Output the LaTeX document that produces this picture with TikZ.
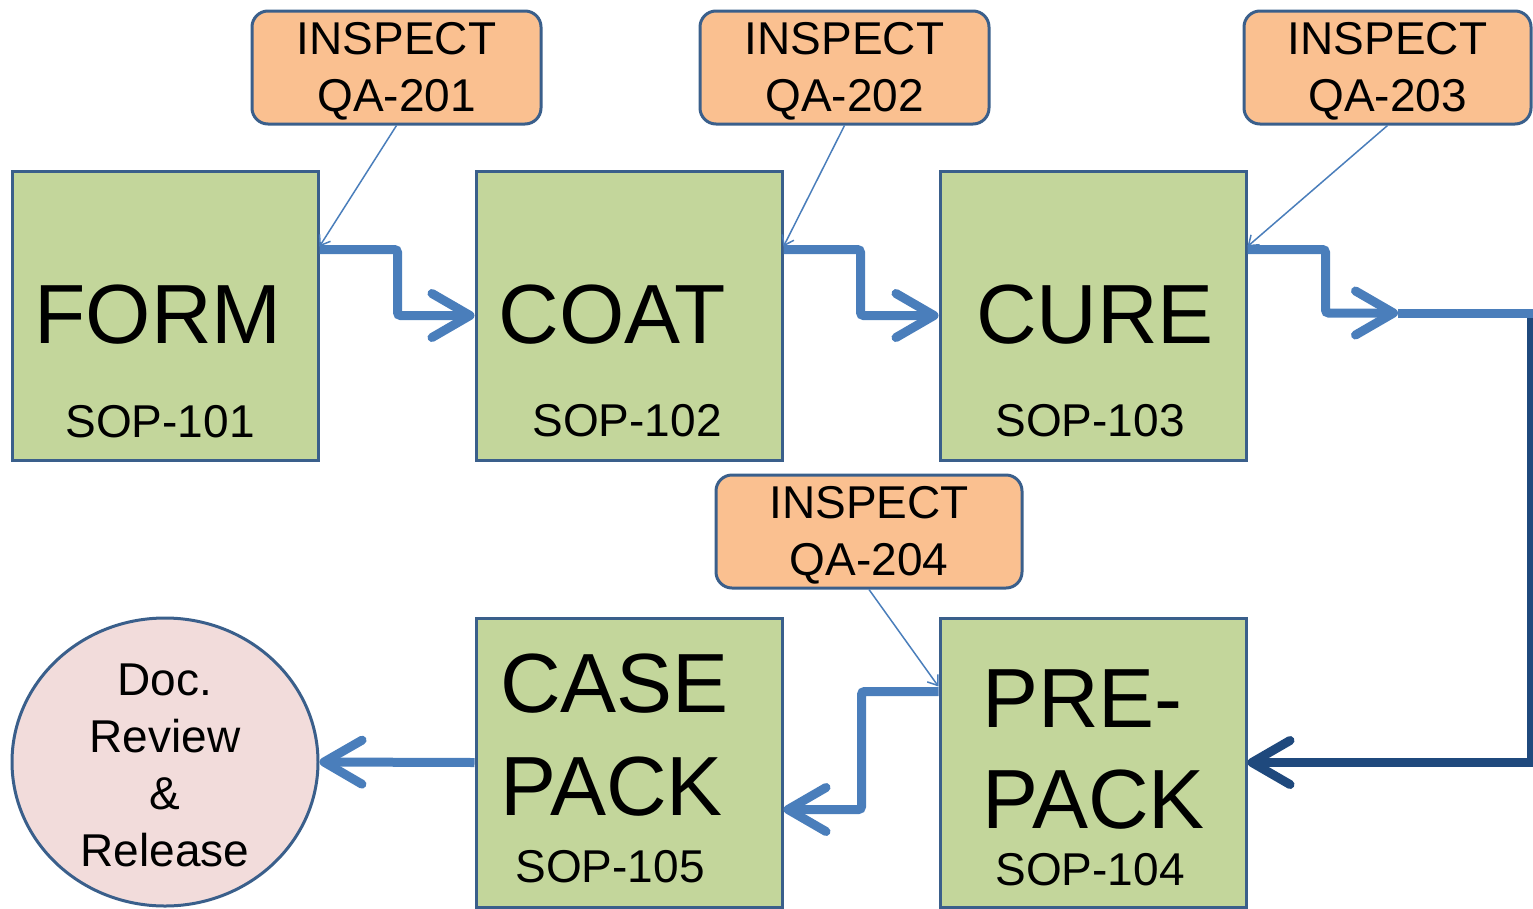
\documentclass[tikz,border=0pt]{standalone}
\usepackage{fontspec}
\setmainfont{Liberation Sans}
\usepackage{xcolor}
\usepackage{tikz}
\usetikzlibrary{
    arrows.meta,
    shapes.geometric,
    positioning,
    calc
}

\definecolor{stagefill}{HTML}{C3D69B}
\definecolor{boxline}{HTML}{3A5F8B}
\definecolor{qafill}{HTML}{FAC090}
\definecolor{relfill}{HTML}{F2DCDB}
\definecolor{flowblue}{HTML}{4A7EBB}
\definecolor{backblue}{HTML}{1F497D}

\newcommand{\bigtxt}{\fontsize{84}{103}\selectfont}
\newcommand{\smalltxt}{\fontsize{46}{57}\selectfont}
\newcommand{\topgap}{\rule{0pt}{40pt}}

\begin{document}
\begin{tikzpicture}[
  x=1pt, y=-1pt,
  stage/.style={rectangle, draw=boxline, fill=stagefill, line width=3pt,
    minimum width=306pt, minimum height=289pt, inner sep=0pt},
  inspect/.style={rectangle, rounded corners=16pt,
    draw=boxline, fill=qafill, line width=3pt,
    minimum width=289pt, minimum height=113pt, inner sep=0pt,
    font=\smalltxt, align=center},
  release/.style={ellipse, draw=boxline, fill=relfill, line width=3pt,
    minimum width=306pt, minimum height=288pt, inner sep=0pt},
  reltxt/.style={font=\smalltxt, align=center, inner sep=0pt},
  ttl/.style={font=\bigtxt, inner sep=0pt, anchor=base},
  sop/.style={font=\smalltxt, inner sep=0pt, anchor=base},
  arr/.style={-{Straight Barb[length=38pt, width=44pt, round]},
    line width=9pt, draw=flowblue, rounded corners=3pt},
  plainarr/.style={line width=9pt, draw=flowblue},
  backarr/.style={-{Straight Barb[length=38pt, width=44pt, round]},
    line width=9pt, draw=backblue, sharp corners},
  thinarr/.style={-{Straight Barb[length=9pt, width=13pt]},
    line width=1.5pt, draw=flowblue}
]
\useasboundingbox (0,0) rectangle (1533,908);

%% ── Top row: stages ──────────────────────────────────────────────────────────
\node[stage] (form) at (165,315.5) {};
\node[stage, right=155pt of form] (coat) {};
\node[stage, right=155pt of coat] (cure) {};

\node[ttl] (formt) at (158,343) {FORM};
\node[sop] (forms) at (160,437) {SOP-101};
\node[ttl] (coatt) at (612,343) {COAT};
\node[sop] (coats) at (627,436) {SOP-102};
\node[ttl] (curet) at (1095,343) {CURE};
\node[sop] (cures) at (1090,436) {SOP-103};

%% ── Bottom row: stages ───────────────────────────────────────────────────────
\node[stage, below=155pt of cure] (prepack) {};
\node[stage, below=155pt of coat] (casepack) {};
\node[release, below=155pt of form] (release) {};
\node[reltxt] (relt) at ([yshift=-3pt]release.center)
    {Doc.\\Review\\\&\\Release};

\node[ttl, anchor=base west] (preta) at (982,727) {PRE-};
\node[ttl, anchor=base west] (pretb) at (982,828) {PACK};
\node[sop] (pres) at (1090,885) {SOP-104};
\node[ttl, anchor=base west] (caseta) at (500,712) {CASE};
\node[ttl, anchor=base west] (casetb) at (500,815) {PACK};
\node[sop] (cases) at (610,882) {SOP-105};

%% ── Inspection points ────────────────────────────────────────────────────────
\node[inspect] (qa1) at (396.5,67.5) {\topgap INSPECT\\QA-201};
\node[inspect] (qa2) at (844.5,67.5) {\topgap INSPECT\\QA-202};
\node[inspect, minimum width=287pt] (qa3) at (1387.5,67.5)
    {\topgap INSPECT\\QA-203};
\node[inspect, minimum width=306pt] (qa4) at (869,531.5)
    {\topgap INSPECT\\QA-204};

%% ── Flow arrows ──────────────────────────────────────────────────────────────
\coordinate (cureout) at (1398,313);
\coordinate (rim) at (1531,313);

\draw[arr] ([yshift=-80pt]form.north east) -- ++(78,0) |- (coat.west);
\draw[arr] ([yshift=-80pt]coat.north east) -- ++(77,0) |- (cure.west);
\draw[arr] ([yshift=-80pt]cure.north east) -- ++(78,0) |- (cureout);
\draw[backarr] ([yshift=4pt]rim) |- (prepack.east);
\draw[plainarr] (cureout) -- ([xshift=3pt]rim);
\draw[arr] ([yshift=-75pt]prepack.north west) -- ++(-77,0)
    |- ([yshift=-193pt]casepack.north east);
\draw[arr] (casepack.west) -- (release.east);

%% ── Inspection callouts ──────────────────────────────────────────────────────
\draw[thinarr] (qa1.south) -- ([yshift=-77pt]form.north east);
\draw[thinarr] (qa2.south) -- ([yshift=-77pt]coat.north east);
\draw[thinarr] (qa3.south) -- ([yshift=-77pt]cure.north east);
\draw[thinarr] (qa4.south) -- ([yshift=-70pt]prepack.north west);

\end{tikzpicture}
\end{document}
